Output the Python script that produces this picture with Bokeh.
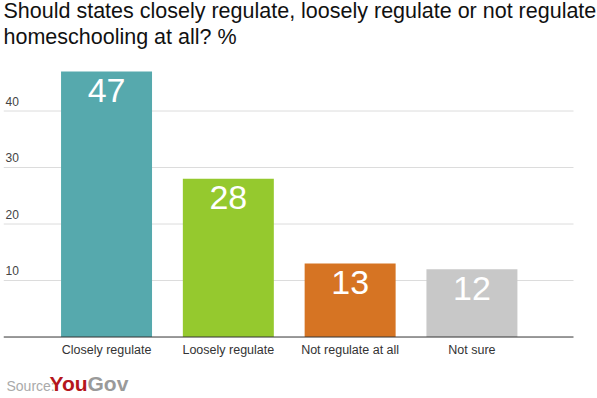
from bokeh.plotting import figure
from bokeh.models import ColumnDataSource
from bokeh.core.properties import value
from bokeh.embed import file_html
from bokeh.resources import INLINE

categories = ["Closely regulate", "Loosely regulate", "Not regulate at all", "Not sure"]
values = [47, 28, 13, 12]
colors = ["#56A9AD", "#95C92E", "#D67423", "#C8C8C8"]
y_ticks = [10, 20, 30, 40]
title_lines = ["Should states closely regulate, loosely regulate or not regulate",
               "homeschooling at all? %"]

FONT = value("Liberation Sans")

x_start, x_end = -0.846, 4.031
grid_end = 3.834
y_start, y_end = -10.88, 59.56

p = figure(width=597, height=398, output_backend="svg", toolbar_location=None,
           x_range=(x_start, x_end), y_range=(y_start, y_end),
           min_border_left=3, min_border_right=0, min_border_top=0, min_border_bottom=0)
p.outline_line_color = None
p.xaxis.visible = False
p.yaxis.visible = False
p.xgrid.visible = False
p.ygrid.visible = False
p.background_fill_color = "white"
p.border_fill_color = "white"

# grid lines
p.segment(x0=[x_start] * len(y_ticks), x1=[grid_end] * len(y_ticks),
          y0=y_ticks, y1=y_ticks, line_color="#DCDCDC", line_width=1)

xs = list(range(len(categories)))
src = ColumnDataSource(dict(x=xs, top=values, color=colors, cat=categories,
                            lab=[str(v) for v in values]))

p.vbar(x="x", top="top", bottom=0, width=0.747, fill_color="color",
       line_color=None, source=src)

# baseline
p.segment(x0=[x_start], x1=[grid_end], y0=[0], y1=[0], line_color="#333333", line_width=1)

# value labels
p.text(x="x", y="top", text="lab", source=src, text_color="white",
       text_font=FONT, text_font_size="34px", text_align="center",
       text_baseline="alphabetic", y_offset=19)

# category labels
p.text(x="x", y=0, text="cat", source=src, text_color="#333333",
       text_font=FONT, text_font_size="12.5px", text_align="center",
       text_baseline="alphabetic", y_offset=12.7)

# y tick labels (above grid lines)
p.text(x=[x_start] * len(y_ticks), y=y_ticks, text=[str(t) for t in y_ticks],
       text_color="#444444", text_font=FONT, text_font_size="12px",
       text_align="left", text_baseline="alphabetic", y_offset=-9.6, x_offset=2)

# title
p.text(x=[x_start, x_start], y=[y_end, y_end], text=title_lines,
       text_color="#111111", text_font=FONT, text_font_size="21.5px",
       text_align="left", text_baseline="alphabetic", y_offset=[10.1, 36.8])

# source
p.text(x=[x_start], y=[y_start], text=["Source:"], text_color="#AAAAAA",
       text_font=FONT, text_font_size="14px", text_align="left",
       text_baseline="alphabetic", y_offset=-12.3, x_offset=3)
p.text(x=[x_start], y=[y_start], text=["You"], text_color="#B5161C",
       text_font=FONT, text_font_size="21px", text_font_style="bold",
       text_align="left", text_baseline="alphabetic", y_offset=-15, x_offset=46)
p.text(x=[x_start], y=[y_start], text=["Gov"], text_color="#9A9A9A",
       text_font=FONT, text_font_size="21px", text_font_style="bold",
       text_align="left", text_baseline="alphabetic", y_offset=-15, x_offset=84)

open("out.html", "w").write(file_html(p, INLINE))
